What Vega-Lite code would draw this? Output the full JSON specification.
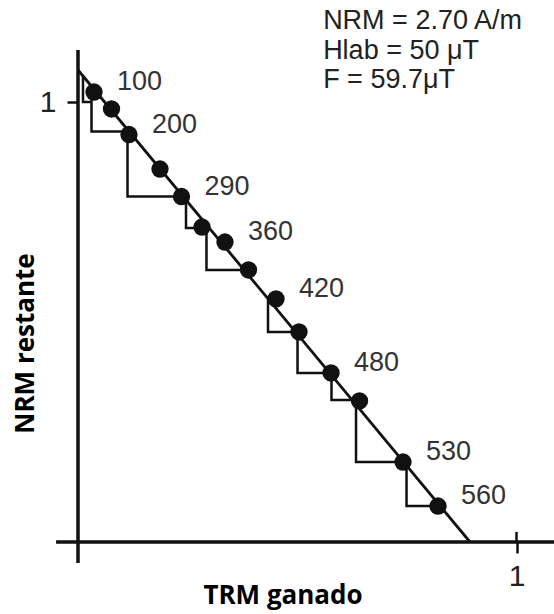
{
  "$schema": "https://vega.github.io/schema/vega-lite/v6.json",
  "autosize": "none",
  "width": 476,
  "height": 528,
  "padding": {"left": 78, "top": 14, "right": 0, "bottom": 72},
  "background": "white",
  "config": {"view": {"stroke": null}},
  "datasets": {
    "points": [
      {"x": 0.0365, "y": 1.0227, "label": "100"},
      {"x": 0.0764, "y": 0.9841, "label": ""},
      {"x": 0.1163, "y": 0.9261, "label": "200"},
      {"x": 0.1870, "y": 0.8477, "label": ""},
      {"x": 0.2360, "y": 0.7852, "label": "290"},
      {"x": 0.2828, "y": 0.7159, "label": ""},
      {"x": 0.3352, "y": 0.6818, "label": "360"},
      {"x": 0.3888, "y": 0.6182, "label": ""},
      {"x": 0.4515, "y": 0.5523, "label": "420"},
      {"x": 0.5040, "y": 0.4773, "label": ""},
      {"x": 0.5770, "y": 0.3841, "label": "480"},
      {"x": 0.6420, "y": 0.3205, "label": ""},
      {"x": 0.7412, "y": 0.1818, "label": "530"},
      {"x": 0.8210, "y": 0.0818, "label": "560"}
    ],
    "fit": [
      {"x": 0.0, "y": 1.0727},
      {"x": 0.894, "y": 0.0}
    ],
    "checks": [
      {"c": 1, "k": 1, "x": 0.0114, "y": 1.059},
      {"c": 1, "k": 2, "x": 0.0114, "y": 1.0},
      {"c": 1, "k": 3, "x": 0.032, "y": 1.0},
      {"c": 2, "k": 1, "x": 0.0308, "y": 1.0227},
      {"c": 2, "k": 2, "x": 0.0308, "y": 0.933},
      {"c": 2, "k": 3, "x": 0.1163, "y": 0.933},
      {"c": 3, "k": 1, "x": 0.1129, "y": 0.9261},
      {"c": 3, "k": 2, "x": 0.1129, "y": 0.7852},
      {"c": 3, "k": 3, "x": 0.236, "y": 0.7852},
      {"c": 4, "k": 1, "x": 0.2463, "y": 0.7841},
      {"c": 4, "k": 2, "x": 0.2463, "y": 0.7136},
      {"c": 4, "k": 3, "x": 0.2828, "y": 0.7136},
      {"c": 5, "k": 1, "x": 0.293, "y": 0.7159},
      {"c": 5, "k": 2, "x": 0.293, "y": 0.6182},
      {"c": 5, "k": 3, "x": 0.3888, "y": 0.6182},
      {"c": 6, "k": 1, "x": 0.4333, "y": 0.553},
      {"c": 6, "k": 2, "x": 0.4333, "y": 0.4773},
      {"c": 6, "k": 3, "x": 0.504, "y": 0.4773},
      {"c": 7, "k": 1, "x": 0.5006, "y": 0.4773},
      {"c": 7, "k": 2, "x": 0.5006, "y": 0.3841},
      {"c": 7, "k": 3, "x": 0.577, "y": 0.3841},
      {"c": 8, "k": 1, "x": 0.5781, "y": 0.3841},
      {"c": 8, "k": 2, "x": 0.5781, "y": 0.3227},
      {"c": 8, "k": 3, "x": 0.642, "y": 0.3227},
      {"c": 9, "k": 1, "x": 0.634, "y": 0.3205},
      {"c": 9, "k": 2, "x": 0.634, "y": 0.1818},
      {"c": 9, "k": 3, "x": 0.7412, "y": 0.1818},
      {"c": 10, "k": 1, "x": 0.7492, "y": 0.1818},
      {"c": 10, "k": 2, "x": 0.7492, "y": 0.0818},
      {"c": 10, "k": 3, "x": 0.821, "y": 0.0818}
    ],
    "xline": [{"x": -0.05, "x2": 1.0855, "y": 0}],
    "yline": [{"x": 0, "y": -0.048, "y2": 1.118}],
    "xtick": [{"x": 1, "y": 0, "y2": 0.023}],
    "notes": [
      {"x": 0.559, "y": 1.184, "text": "NRM = 2.70 A/m"},
      {"x": 0.559, "y": 1.117, "text": "Hlab = 50 μT"},
      {"x": 0.559, "y": 1.05, "text": "F = 59.7μT"}
    ]
  },
  "encoding": {
    "x": {
      "field": "x", "type": "quantitative",
      "scale": {"domain": [0, 1.0855], "nice": false, "zero": false},
      "axis": {
        "values": [1], "domain": false, "grid": false,
        "tickSize": 11, "tickWidth": 2.5, "tickColor": "#111",
        "labelFont": "Liberation Sans", "labelFontSize": 30, "labelColor": "#222",
        "labelBaseline": "alphabetic", "labelPadding": 32, "labelDx": 4,
        "title": "TRM ganado", "titleFont": "Open Sans", "titleFontWeight": "bold",
        "titleFontSize": 26, "titleColor": "#000", "titleX": 204.5, "titleY": 61,
        "titleBaseline": "alphabetic", "titleAlign": "center"
      }
    },
    "y": {
      "field": "y", "type": "quantitative",
      "scale": {"domain": [0, 1.2], "nice": false, "zero": false},
      "axis": {
        "values": [1], "domain": false, "grid": false,
        "tickSize": 11, "tickWidth": 2.5, "tickColor": "#111",
        "labelFont": "Liberation Sans", "labelFontSize": 30, "labelColor": "#222",
        "labelPadding": 11, "labelBaseline": "middle",
        "title": "NRM restante", "titleFont": "Open Sans", "titleFontWeight": "bold",
        "titleFontSize": 26, "titleColor": "#000", "titleX": -45, "titleY": 329,
        "titleBaseline": "alphabetic", "titleAlign": "center", "titleAngle": -90
      }
    }
  },
  "layer": [
    {
      "data": {"name": "xline"},
      "mark": {"type": "rule", "strokeWidth": 3.5, "color": "#111"},
      "encoding": {"x2": {"field": "x2"}}
    },
    {
      "data": {"name": "yline"},
      "mark": {"type": "rule", "strokeWidth": 3.5, "color": "#111"},
      "encoding": {"y2": {"field": "y2"}}
    },
    {
      "data": {"name": "xtick"},
      "mark": {"type": "rule", "strokeWidth": 2.5, "color": "#111"},
      "encoding": {"y2": {"field": "y2"}}
    },
    {
      "data": {"name": "checks"},
      "mark": {"type": "line", "strokeWidth": 2.5, "color": "#111"},
      "encoding": {
        "detail": {"field": "c", "type": "nominal"},
        "order": {"field": "k", "type": "quantitative"}
      }
    },
    {
      "data": {"name": "fit"},
      "mark": {"type": "line", "strokeWidth": 2.8, "color": "#111"},
      "encoding": {}
    },
    {
      "data": {"name": "points"},
      "mark": {"type": "circle", "size": 300, "opacity": 1, "color": "#111"},
      "encoding": {}
    },
    {
      "data": {"name": "points"},
      "transform": [{"filter": "datum.label != ''"}],
      "mark": {"type": "text", "align": "left", "baseline": "middle", "dx": 23, "dy": -10,
               "font": "Liberation Sans", "fontSize": 27, "color": "#333"},
      "encoding": {"text": {"field": "label"}}
    },
    {
      "data": {"name": "notes"},
      "mark": {"type": "text", "align": "left", "baseline": "middle",
               "font": "Liberation Sans", "fontSize": 27, "color": "#222"},
      "encoding": {"text": {"field": "text"}}
    }
  ]
}
